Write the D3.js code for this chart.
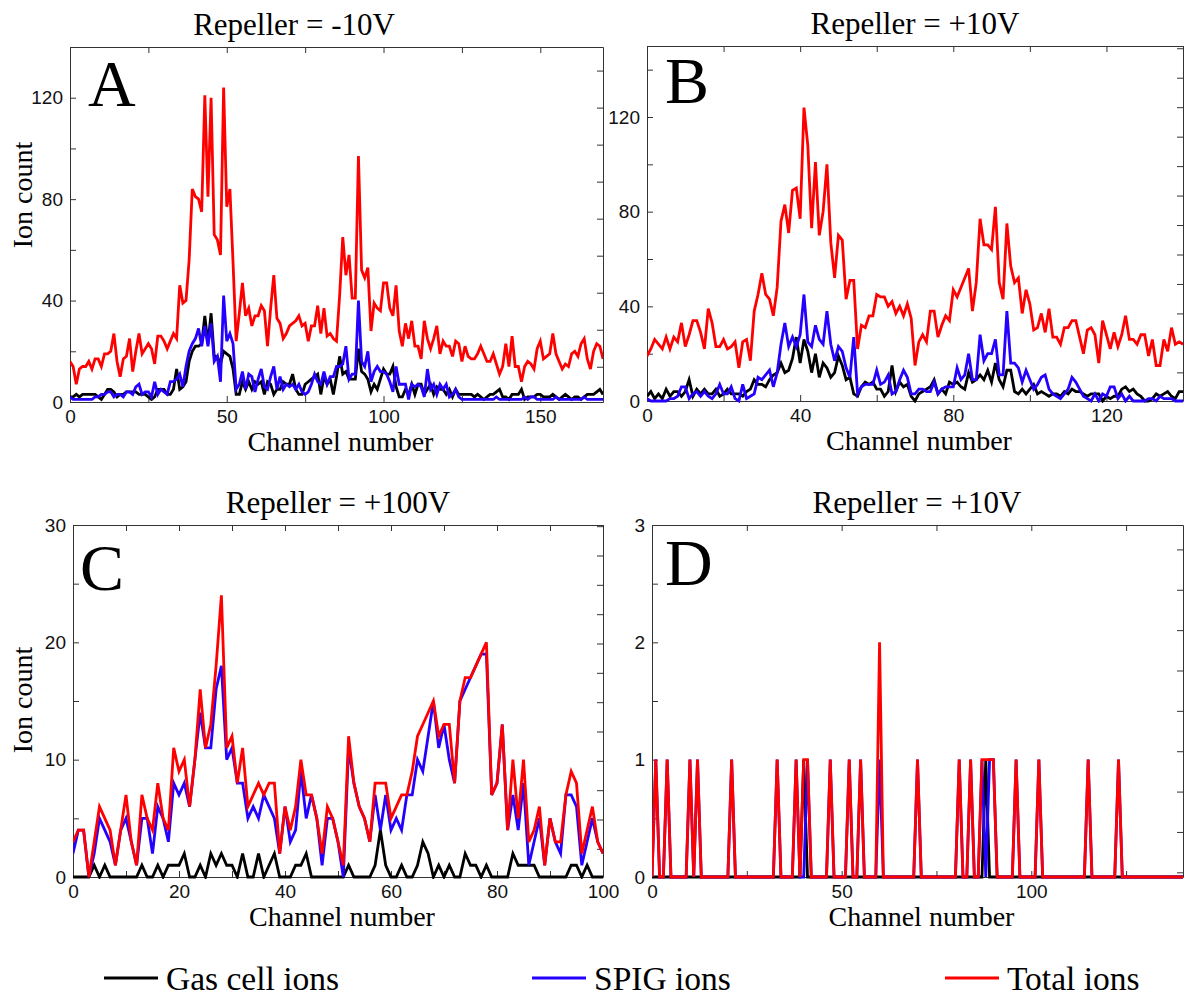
<!DOCTYPE html>
<html>
<head>
<meta charset="utf-8">
<script src="https://cdn.jsdelivr.net/npm/d3@7"></script>
<style>
  body { margin: 0; background: #fff; }
  .serif { font-family: "Liberation Serif", "Times New Roman", serif; fill: #000; }
</style>
</head>
<body>
<svg id="chart" width="1190" height="999"></svg>
<script>
// ---- data (one value per channel) ----
const totalA = [
  16,14,7,13,14,14,16,13,17,17, 14,19,19,20,27,16,10,17,18,25,
  12,20,27,19,21,23,21,15,26,26, 24,21,24,27,25,46,39,40,56,84,
  81,80,75,121,81,120,66,64,58,124, 77,84,55,24,35,47,34,37,30,34,
  34,38,36,22,37,50,33,31,25,27, 30,31,32,34,30,31,24,30,30,38,
  27,37,26,27,25,24,42,65,50,58, 41,41,97,52,49,53,28,39,37,36,
  47,47,37,34,46,28,22,31,25,32, 22,22,17,32,25,21,25,30,19,24,
  22,22,18,24,23,16,22,18,17,17, 19,22,19,16,16,19,15,11,14,23,
  14,26,14,14,8,14,16,15,13,21, 24,17,18,19,27,19,16,13,15,14,
  19,20,18,23,25,17,13,20,23,22, 17
];
const spigA = [
  2,1,1,1,1,1,1,1,2,2, 3,3,4,4,2,3,3,2,4,4,
  3,6,7,3,4,4,2,8,3,5, 4,3,8,8,9,11,6,14,20,23,
  25,29,22,30,22,31,16,18,8,42, 24,27,23,5,7,12,5,11,10,4,
  9,13,6,5,10,14,5,10,5,7, 6,7,5,7,4,3,4,7,11,8,
  7,12,7,10,10,14,14,15,22,9, 11,11,40,16,14,20,8,12,14,12,
  12,11,8,4,14,7,7,7,1,7, 6,7,6,2,13,5,7,3,7,5,
  7,2,3,5,2,1,1,1,1,1, 1,1,1,1,1,1,2,1,1,1,
  1,1,1,1,1,2,1,2,2,1, 1,1,1,1,1,2,1,1,1,1,
  1,1,1,1,2,1,1,1,1,1, 1
];
const gasA = [
  2,2,3,2,3,3,3,3,3,2, 1,3,5,5,4,2,3,3,4,4,
  4,4,3,3,3,2,1,2,5,5, 5,3,3,5,13,5,6,8,16,20,
  22,22,23,34,23,35,18,18,15,20, 19,18,13,3,3,8,5,8,5,8,
  7,8,3,8,7,3,5,5,8,7, 7,11,5,3,3,7,8,9,10,11,
  3,10,7,9,3,10,18,11,12,9, 9,9,21,12,11,9,4,7,5,9,
  13,11,11,14,6,2,2,5,3,7, 3,7,7,3,5,7,3,6,5,5,
  3,5,2,5,3,3,3,3,3,2, 3,2,1,2,3,3,4,5,2,2,
  1,3,3,3,5,1,2,2,2,3, 3,2,2,2,3,2,1,2,3,2,
  1,2,2,1,2,3,3,3,4,5, 3
];

const totalB = [
  19,22,26,24,22,27,22,27,25,33, 23,28,34,34,29,22,39,33,23,23,
  26,22,23,25,14,25,26,17,38,45, 54,45,43,36,48,76,83,71,89,90,
  77,124,108,73,101,70,80,100,67,52, 70,68,43,51,51,22,32,31,36,36,
  45,44,44,40,42,37,40,36,41,35, 15,25,28,25,38,38,27,32,36,34,
  47,44,48,52,56,38,50,77,66,66, 64,82,50,43,75,57,50,52,37,47,
  41,30,31,37,29,39,27,27,24,31, 31,34,34,27,20,30,31,28,16,34,
  28,22,29,23,28,36,26,26,24,28, 28,19,26,15,15,26,21,31,24,25,
  24
];
const spigB = [
  1,0,0,0,0,0,1,1,2,6, 6,1,3,4,2,4,2,1,3,7,
  3,3,6,1,0,7,1,2,3,10, 9,11,13,6,12,24,33,23,27,23,
  28,45,25,23,32,26,24,38,24,17, 23,21,14,10,27,3,6,7,7,7,
  13,7,8,11,3,4,9,13,10,3, 3,5,5,4,4,8,3,5,6,6,
  6,14,9,11,20,9,9,28,17,20, 20,26,11,11,38,16,16,14,8,13,
  9,5,7,10,11,5,3,2,1,3, 5,10,8,5,2,1,0,3,0,3,
  2,6,6,1,3,0,2,0,0,0, 0,1,1,0,2,1,1,1,0,0,
  0
];
const gasB = [
  2,4,1,3,1,5,2,4,4,2, 4,9,2,5,3,5,3,3,5,2,
  3,5,3,3,3,2,4,5,9,7, 7,6,9,11,12,16,12,13,18,27,
  16,26,21,12,20,10,16,14,10,12, 19,15,9,10,3,2,6,8,7,8,
  5,5,2,4,15,4,8,6,7,2, 0,3,4,5,6,9,3,5,3,8,
  7,8,6,5,12,8,9,11,9,13, 8,16,9,6,13,13,4,3,5,3,
  5,7,3,4,3,2,3,3,2,4, 3,5,4,4,3,2,3,3,3,0,
  2,1,2,2,5,6,4,5,3,2, 0,0,1,3,2,3,4,2,1,4,
  4
];

const totalC = [
  3,4,4,0,3,6,5,4,1,4, 7,3,1,7,5,4,8,5,4,11,
  9,10,6,10,16,11,13,18,24,11, 12,8,11,6,7,8,7,8,8,2,
  6,4,6,10,7,7,5,2,6,5, 3,1,12,8,6,5,3,8,8,8,
  5,6,7,7,9,12,13,14,15,12, 13,13,8,15,17,17,18,19,20,7,
  8,13,4,10,5,10,3,4,6,1, 5,3,3,7,9,8,2,4,6,3,
  2
];
const spigC = [
  2,4,4,0,2,5,4,3,1,4, 5,3,1,5,5,2,6,5,3,8,
  7,8,6,10,14,11,11,16,18,10, 11,8,8,5,6,5,7,6,5,2,
  6,3,4,9,5,7,5,1,5,5, 3,0,11,8,6,5,3,7,4,7,
  4,5,4,7,7,10,9,12,15,11, 13,10,8,15,16,17,18,19,19,7,
  8,13,4,7,4,8,1,3,5,1, 5,3,2,7,7,6,1,3,5,3,
  2
];
const gasC = [
  0,0,0,0,1,0,1,0,0,0, 0,0,0,1,0,0,1,0,1,1,
  1,2,0,0,1,0,2,1,2,1, 1,0,2,0,0,2,0,1,2,0,
  0,0,1,1,2,0,0,0,0,0, 0,0,1,0,0,0,0,1,4,1,
  0,0,1,0,0,1,3,2,0,1, 0,1,0,0,2,1,1,0,1,0,
  0,0,0,2,1,1,1,1,0,0, 0,0,0,0,1,1,0,1,0,0,
  0
];

const totalD = [
  0,1,0,0,1,0,0,0,0,0, 1,0,1,0,0,0,0,0,0,0,
  0,1,0,0,0,0,0,0,0,0, 0,0,0,1,0,0,0,0,1,0,
  1,1,0,0,0,0,0,1,0,0, 0,0,1,0,0,1,0,0,0,0,
  2,0,0,0,0,0,0,0,0,0, 1,0,0,0,0,0,0,0,0,0,
  0,1,0,0,1,0,0,1,1,1, 1,0,0,0,0,0,1,0,0,0,
  0,0,1,0,0,0,0,0,0,0, 0,0,0,0,0,1,0,0,0,0,
  0,0,0,1,0,0,0,0,0,0, 0,0,0,0,0,0,0,0,0,0,
  0
];
const spigD = [
  0,1,0,0,1,0,0,0,0,0, 1,0,1,0,0,0,0,0,0,0,
  0,1,0,0,0,0,0,0,0,0, 0,0,0,1,0,0,0,0,1,0,
  0,1,0,0,0,0,0,1,0,0, 0,0,1,0,0,1,0,0,0,0,
  1,0,0,0,0,0,0,0,0,0, 1,0,0,0,0,0,0,0,0,0,
  0,1,0,0,1,0,0,1,0,1, 1,0,0,0,0,0,1,0,0,0,
  0,0,1,0,0,0,0,0,0,0, 0,0,0,0,0,1,0,0,0,0,
  0,0,0,1,0,0,0,0,0,0, 0,0,0,0,0,0,0,0,0,0,
  0
];
const gasD = [
  0,0,0,0,0,0,0,0,0,0, 0,0,0,0,0,0,0,0,0,0,
  0,0,0,0,0,0,0,0,0,0, 0,0,0,0,0,0,0,0,0,0,
  1,0,0,0,0,0,0,0,0,0, 0,0,0,0,0,0,0,0,0,0,
  0,0,0,0,0,0,0,0,0,0, 0,0,0,0,0,0,0,0,0,0,
  0,0,0,0,0,0,0,0,1,0, 0,0,0,0,0,0,0,0,0,0,
  0,0,0,0,0,0,0,0,0,0, 0,0,0,0,0,0,0,0,0,0,
  0,0,0,0,0,0,0,0,0,0, 0,0,0,0,0,0,0,0,0,0,
  0
];

const titles = ['Repeller = -10V', 'Repeller = +10V', 'Repeller = +100V', 'Repeller = +10V'];
const letters = ['A', 'B', 'C', 'D'];
const seriesNames = ['Gas cell ions', 'SPIG ions', 'Total ions'];
const seriesColors = ['#000000', '#2400ff', '#ff0000'];

// ---- layout of the four panels ----
const panels = [
  { data: [gasA, spigA, totalA], box: { l: 70, r: 603, t: 47, b: 402 },
    xMax: 170, xStep: 25, xLabel: 50, yMax: 140, yStep: 20, yLabel: 40,
    right: d3.range(13.9, 140, 14.6), letter: [18, 59], titleX: 294, ylab: 195 },
  { data: [gasB, spigB, totalB], box: { l: 647, r: 1183, t: 46, b: 401 },
    xMax: 140, xStep: 20, xLabel: 40, yMax: 150, yStep: 20, yLabel: 40,
    right: d3.range(12.1, 150, 12.45), letter: [18, 57], titleX: 915, ylab: null },
  { data: [gasC, spigC, totalC], box: { l: 73, r: 603, t: 525, b: 877 },
    xMax: 100, xStep: 10, xLabel: 20, yMax: 30, yStep: 5, yLabel: 10,
    right: d3.range(2.4, 30, 2.5), letter: [7, 65], titleX: 338, ylab: 700 },
  { data: [gasD, spigD, totalD], box: { l: 652, r: 1183, t: 525, b: 877 },
    xMax: 140, xStep: 25, xLabel: 50, yMax: 3, yStep: 0.5, yLabel: 1,
    right: d3.range(0.04, 3, 0.344), letter: [13, 60], titleX: 917, ylab: null }
];

const svg = d3.select('#chart');

function styleAxis(sel) {
  sel.selectAll('.domain').attr('stroke', '#333');
  sel.selectAll('.tick line').attr('stroke', '#333');
  sel.selectAll('.tick text')
    .attr('font-family', '"Liberation Sans", Arial, sans-serif')
    .attr('font-size', 19)
    .attr('fill', '#111');
}

function drawPanel(p, i) {
  const b = p.box;
  const x = d3.scaleLinear().domain([0, p.xMax]).range([b.l, b.r]);
  const y = d3.scaleLinear().domain([0, p.yMax]).range([b.b, b.t]);
  const g = svg.append('g');

  const xTicks = d3.range(0, p.xMax + 1e-6, p.xStep);
  const yTicks = d3.range(0, p.yMax + 1e-6, p.yStep);
  const isMajor = (v, step) => Math.abs(v / step - Math.round(v / step)) < 1e-6;

  g.append('g')
    .attr('transform', `translate(0,${b.b})`)
    .call(d3.axisBottom(x).tickValues(xTicks).tickSizeInner(-6).tickSizeOuter(0).tickPadding(8)
      .tickFormat(d => isMajor(d, p.xLabel) ? d : ''))
    .call(styleAxis);

  g.append('g')
    .attr('transform', `translate(0,${b.t})`)
    .call(d3.axisTop(x).tickValues(xTicks).tickSizeInner(-6).tickSizeOuter(0).tickFormat(''))
    .call(styleAxis);

  g.append('g')
    .attr('transform', `translate(${b.l},0)`)
    .call(d3.axisLeft(y).tickValues(yTicks).tickSizeInner(-6).tickSizeOuter(0).tickPadding(7)
      .tickFormat(d => isMajor(d, p.yLabel) ? d : ''))
    .call(styleAxis);

  g.append('g')
    .attr('transform', `translate(${b.r},0)`)
    .call(d3.axisRight(y).tickValues(p.right).tickSizeInner(-6).tickSizeOuter(0).tickFormat(''))
    .call(styleAxis);

  const clipId = 'clip' + i;
  g.append('clipPath').attr('id', clipId)
    .append('rect').attr('x', b.l).attr('y', b.t - 2)
    .attr('width', b.r - b.l).attr('height', b.b - b.t + 4);

  const line = d3.line().x((d, k) => x(k)).y(d => y(d));
  g.append('g').attr('clip-path', `url(#${clipId})`)
    .selectAll('path')
    .data(p.data)
    .enter().append('path')
    .attr('d', d => line(d))
    .attr('fill', 'none')
    .attr('stroke', (d, k) => seriesColors[k])
    .attr('stroke-width', 2.8)
    .attr('stroke-linejoin', 'miter');

  // panel letter
  g.append('text').attr('class', 'serif')
    .attr('x', b.l + p.letter[0]).attr('y', b.t + p.letter[1])
    .attr('font-size', 66)
    .text(letters[i]);

  // title
  g.append('text').attr('class', 'serif')
    .attr('x', p.titleX).attr('y', b.t - 12)
    .attr('text-anchor', 'middle')
    .attr('font-size', 31)
    .text(titles[i]);

  // x label
  g.append('text').attr('class', 'serif')
    .attr('x', (b.l + b.r) / 2 + 4).attr('y', b.b + 49)
    .attr('text-anchor', 'middle')
    .attr('font-size', 28)
    .text('Channel number');

  if (p.ylab) {
    g.append('text').attr('class', 'serif')
      .attr('transform', `translate(32,${p.ylab}) rotate(-90)`)
      .attr('text-anchor', 'middle')
      .attr('font-size', 28)
      .text('Ion count');
  }
}

panels.forEach(drawPanel);

// legend
const legendX = [104, 532, 945];
const legend = svg.append('g').selectAll('g')
  .data(seriesNames)
  .enter().append('g')
  .attr('transform', (d, k) => `translate(${legendX[k]},978)`);
legend.append('line')
  .attr('x1', 0).attr('x2', 54).attr('y1', 0).attr('y2', 0)
  .attr('stroke', (d, k) => seriesColors[k]).attr('stroke-width', 3);
legend.append('text').attr('class', 'serif')
  .attr('x', 62).attr('y', 12)
  .attr('font-size', 33.5)
  .text(d => d);
</script>
</body>
</html>
